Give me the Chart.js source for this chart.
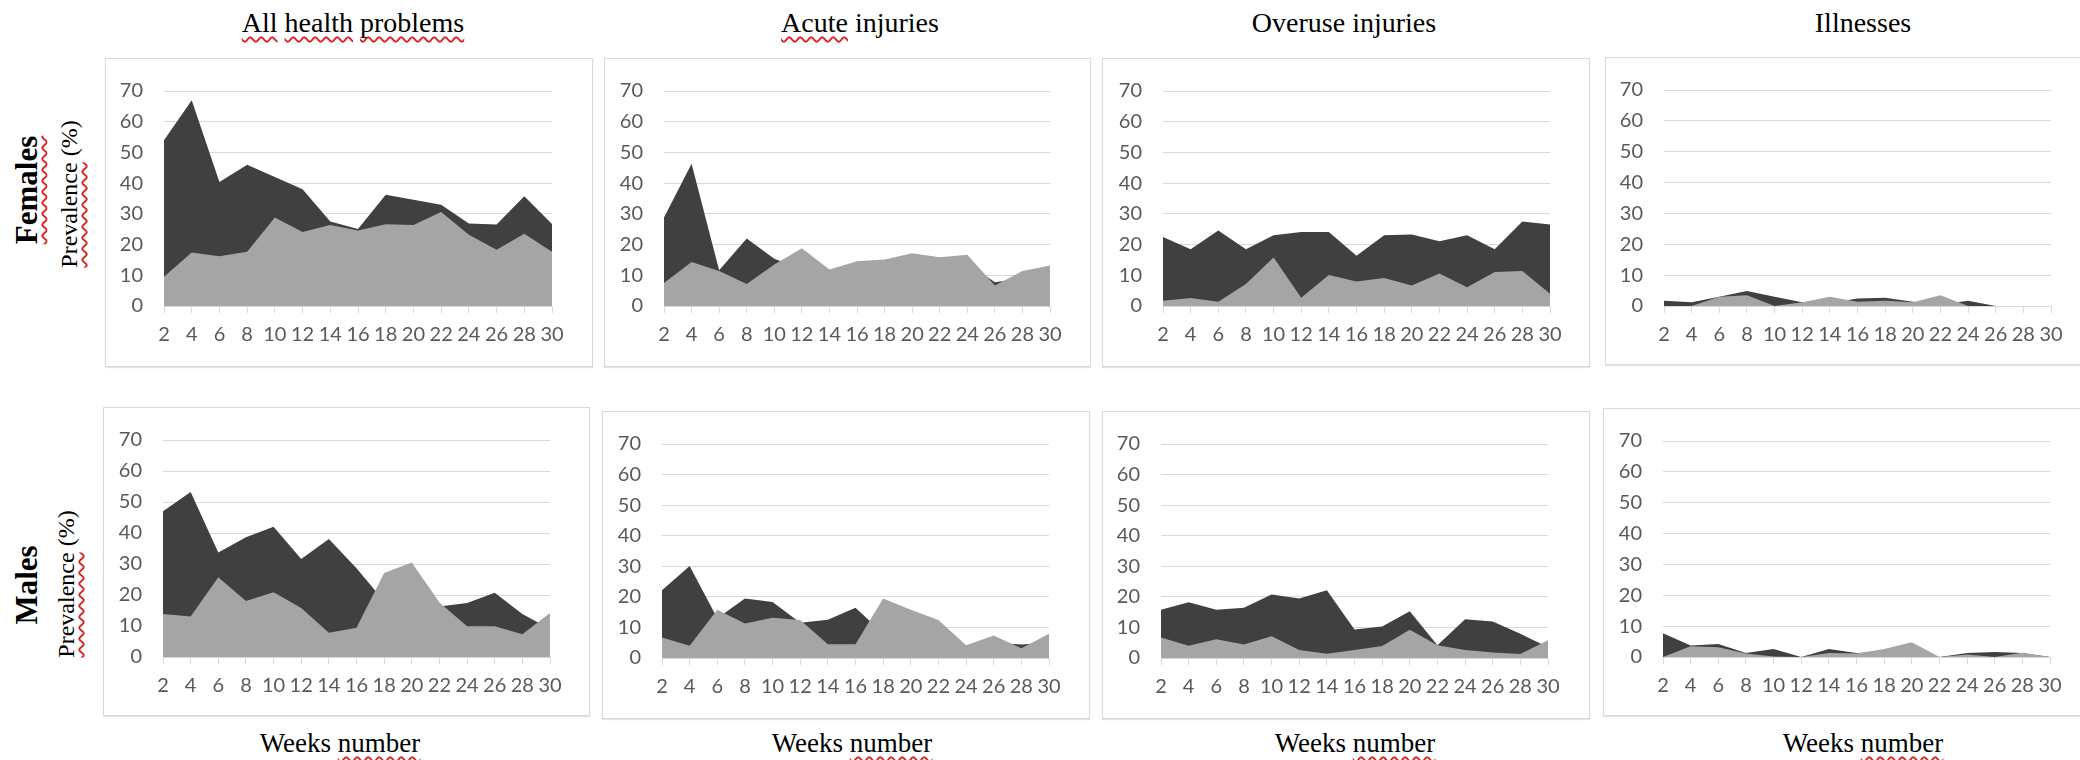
<!DOCTYPE html>
<html><head><meta charset="utf-8">
<script src="https://cdn.jsdelivr.net/npm/chart.js@4"></script>
<style>
html,body{margin:0;padding:0;background:#fff;}
body{width:2080px;height:760px;position:relative;overflow:hidden;font-family:"Liberation Serif","Times New Roman",serif;color:#000;}
.panel{position:absolute;box-sizing:border-box;border:1px solid #d9d9d9;box-shadow:0 1px 1px rgba(0,0,0,0.10);background:#fff;}
canvas{position:absolute;}
.lbl{position:absolute;white-space:nowrap;transform:translate(-50%,-50%);line-height:1;}
.rot{transform:translate(-50%,-50%) rotate(-90deg);}
.sq{text-decoration:underline wavy #e02020;text-decoration-thickness:1.5px;text-underline-offset:4px;text-decoration-skip-ink:none;}
</style></head>
<body>
<div class="lbl" style="left:353px;top:23px;font-size:28px;"><span class="sq">All</span> <span class="sq">health</span> <span class="sq">problems</span></div>
<div class="lbl" style="left:860px;top:23px;font-size:28px;"><span class="sq">Acute</span> injuries</div>
<div class="lbl" style="left:1344px;top:23px;font-size:28px;">Overuse injuries</div>
<div class="lbl" style="left:1863px;top:23px;font-size:28px;">Illnesses</div>

<div class="lbl" style="left:340px;top:743px;font-size:27px;">Weeks <span class="sq">number</span></div>
<div class="lbl" style="left:852px;top:743px;font-size:27px;">Weeks <span class="sq">number</span></div>
<div class="lbl" style="left:1355px;top:743px;font-size:27px;">Weeks <span class="sq">number</span></div>
<div class="lbl" style="left:1863px;top:743px;font-size:27px;">Weeks <span class="sq">number</span></div>

<div class="lbl rot" style="left:26px;top:190px;font-size:31px;font-weight:bold;"><span class="sq">Females</span></div>
<div class="lbl rot" style="left:69px;top:194px;font-size:24px;"><span class="sq">Prevalence</span> (%)</div>
<div class="lbl rot" style="left:26px;top:585px;font-size:31px;font-weight:bold;">Males</div>
<div class="lbl rot" style="left:66px;top:584px;font-size:24px;"><span class="sq">Prevalence</span> (%)</div>

<script>
// ---- data ----
const weeks = ['2','4','6','8','10','12','14','16','18','20','22','24','26','28','30'];
const yMin = 0, yMax = 70, yStep = 10;

const femAllDark   = [54, 67, 40.4, 46, 42, 38, 27.5, 25.1, 36.2, 34.6, 33, 26.9, 26.5, 35.7, 26.7];
const femAllLight  = [9.5, 17.4, 16.2, 17.7, 28.8, 24.1, 26.4, 24.6, 26.6, 26.4, 30.6, 23.2, 18.3, 23.5, 17.7];
const femAcuteDark = [28.8, 46.3, 11.6, 22, 15.4, 12, 10, 12, 13, 14, 13, 14, 7.7, 9, 10];
const femAcuteLight= [7.5, 14.3, 11.4, 7.2, 13.5, 18.8, 11.9, 14.6, 15.1, 17.2, 15.9, 16.7, 6.7, 11.4, 13.2];
const femOverDark  = [22.5, 18.5, 24.6, 18.5, 23, 24.1, 24.1, 16.4, 23, 23.3, 21.1, 23, 18.5, 27.5, 26.5];
const femOverLight = [1.7, 2.6, 1.4, 7.2, 15.8, 2.7, 10.1, 8, 9.1, 6.7, 10.6, 6.1, 11.1, 11.4, 4];
const femIllDark   = [1.7, 1.2, 3, 4.9, 3, 1.2, 1, 2.4, 2.7, 1.4, 0.5, 1.7, 0, 0, 0];
const femIllLight  = [0, 0, 3, 3.5, 0, 1.2, 3, 1.4, 1.7, 1.2, 3.5, 0, 0, 0, 0];

const malAllDark   = [47, 53.2, 33.7, 38.6, 42, 31.6, 38.1, 28.6, 18, 20, 16.3, 17.4, 20.7, 13.9, 9];
const malAllLight  = [13.9, 13.1, 25.7, 18.1, 20.9, 15.8, 7.8, 9.4, 27.1, 30.5, 17.6, 9.9, 9.9, 7.3, 14.2];
const malAcuteDark = [22.2, 30.1, 13, 19.5, 18.3, 11.5, 12.5, 16.4, 8, 9, 7, 3, 5, 4.4, 5];
const malAcuteLight= [6.7, 4, 15.8, 11.3, 13.2, 12.4, 4.5, 4.5, 19.5, 15.8, 12.4, 4.2, 7.4, 3.2, 7.9];
const malOverDark  = [15.8, 18.2, 15.8, 16.4, 20.8, 19.5, 22.2, 9.3, 10.3, 15.3, 4.2, 12.7, 11.9, 7.9, 3.5];
const malOverLight = [6.7, 4, 6.1, 4.4, 7.1, 2.6, 1.4, 2.6, 3.9, 9.2, 4.2, 2.6, 1.8, 1.3, 5.8];
const malIllDark   = [7.7, 3.7, 4.2, 1.3, 2.6, 0, 2.6, 1.3, 1.5, 2, 0, 1.3, 1.6, 1.3, 0];
const malIllLight  = [0, 3.5, 3.2, 1.1, 0.2, 0, 1.3, 1.1, 2.6, 4.8, 0, 0.8, 0, 1.4, 0];

// ---- layout (panel box and plot area, page px) ----
const panels = [
  {box:[105,58,593,367],  area:[164,85,552,306],  dark:femAllDark,   light:femAllLight},
  {box:[604,58,1091,367], area:[664,85,1050,306], dark:femAcuteDark, light:femAcuteLight},
  {box:[1102,58,1590,367],area:[1163,85,1550,306],dark:femOverDark,  light:femOverLight},
  {box:[1605,57,2092,365],area:[1664,85,2051,306],dark:femIllDark,   light:femIllLight},
  {box:[103,407,590,716], area:[163,436,550,657], dark:malAllDark,   light:malAllLight},
  {box:[602,411,1090,719],area:[662,437,1049,658],dark:malAcuteDark, light:malAcuteLight},
  {box:[1102,411,1590,719],area:[1161,437,1548,658],dark:malOverDark,light:malOverLight},
  {box:[1603,408,2092,716],area:[1663,436,2050,657],dark:malIllDark, light:malIllLight}
];

const GRID = '#d9d9d9', TICK = '#595959', DARK = '#404040', LIGHT = '#a5a5a5';

panels.forEach(p => {
  const [L,T,R,B] = p.box, [l,t,r,b] = p.area;
  const W = R - L, H = B - T;
  const div = document.createElement('div');
  div.className = 'panel';
  Object.assign(div.style, {left:L+'px', top:T+'px', width:W+'px', height:H+'px'});
  document.body.appendChild(div);
  const cv = document.createElement('canvas');
  cv.width = W; cv.height = H;
  Object.assign(cv.style, {left:L+'px', top:T+'px', width:W+'px', height:H+'px'});
  document.body.appendChild(cv);
  const leftInset = l - L, rightInset = R - r, topInset = t - T, bottomInset = B - b;
  new Chart(cv.getContext('2d'), {
    type: 'line',
    data: {
      labels: weeks,
      datasets: [
        {data: p.light, backgroundColor: LIGHT, borderColor: 'rgba(0,0,0,0)', borderWidth: 0, fill: 'origin', pointRadius: 0, tension: 0},
        {data: p.dark,  backgroundColor: DARK,  borderColor: 'rgba(0,0,0,0)', borderWidth: 0, fill: 'origin', pointRadius: 0, tension: 0}
      ]
    },
    options: {
      responsive: false, animation: false, devicePixelRatio: 1, events: [],
      layout: {padding: {top: topInset, right: rightInset, left: 0, bottom: 0}},
      plugins: {legend: {display: false}, tooltip: {enabled: false}},
      scales: {
        x: {
          type: 'category', offset: false,
          grid: {display: true, drawOnChartArea: false, drawTicks: true, tickLength: 7, color: GRID},
          border: {display: true, color: GRID},
          ticks: {autoSkip: false, maxRotation: 0, minRotation: 0, padding: 10, color: TICK, font: {family: 'Lato', size: 20}},
          afterFit: s => { s.height = bottomInset; }
        },
        y: {
          min: yMin, max: yMax,
          grid: {color: GRID, drawTicks: false},
          border: {display: false},
          ticks: {stepSize: yStep, padding: 21, color: TICK, font: {family: 'Lato', size: 20}},
          afterFit: s => { s.width = leftInset; }
        }
      }
    }
  });
});
</script>
</body></html>
